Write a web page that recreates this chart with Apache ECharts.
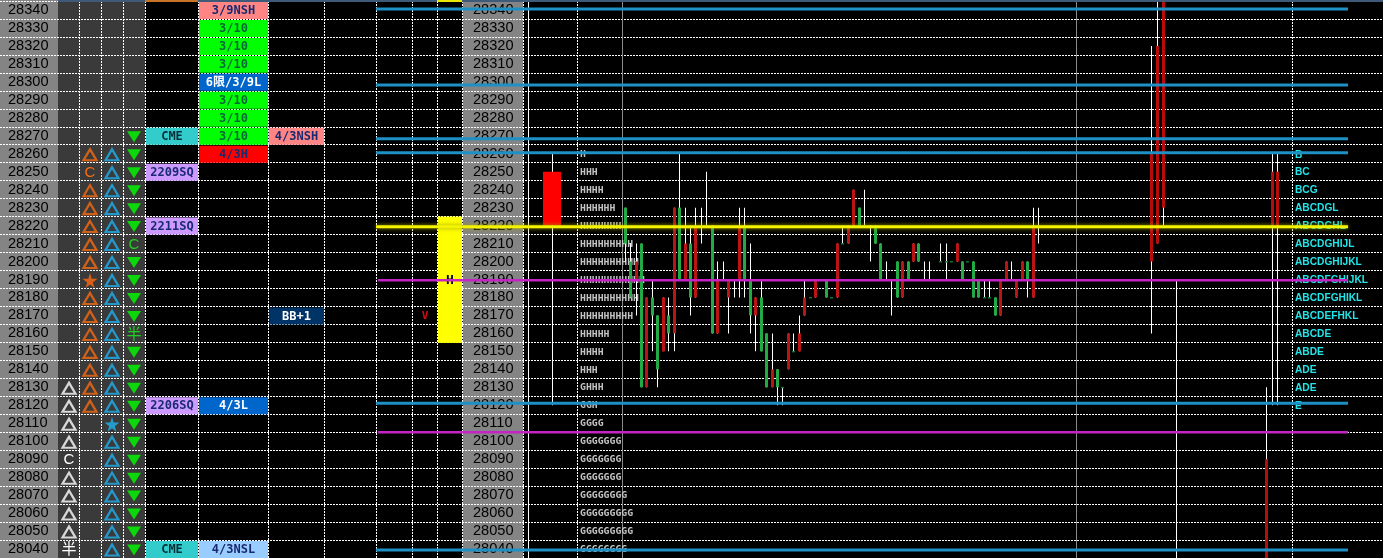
<!DOCTYPE html>
<html><head><meta charset="utf-8">
<style>html,body{margin:0;padding:0;background:#000;overflow:hidden}#c{width:1383px;height:558px}</style>
<script src="https://cdn.jsdelivr.net/npm/echarts@6/dist/echarts.min.js"></script>
</head><body><div id="c"></div>
<script>
const priceTicks=[28340,28330,28320,28310,28300,28290,28280,28270,28260,28250,28240,28230,28220,28210,28200,28190,28180,28170,28160,28150,28140,28130,28120,28110,28100,28090,28080,28070,28060,28050,28040];

const whiteTriangles=[28130,28120,28110,28100,28080,28070,28060,28050];
const orangeTriangles=[28260,28240,28230,28220,28210,28200,28180,28170,28160,28150,28140,28130,28120];
const blueTriangles=[28260,28250,28240,28230,28220,28210,28200,28190,28180,28170,28160,28150,28140,28130,28120,28100,28090,28080,28070,28060,28050,28040];
const greenTriangles=[28270,28260,28250,28240,28230,28220,28200,28190,28180,28170,28150,28140,28130,28120,28110,28100,28090,28080,28070,28060,28050,28040];
const orangeStars=[28190];
const blueStars=[28110];
const whiteMarks=[[28090,'C'],[28040,'半']];
const orangeMarks=[[28250,'C']];
const greenMarks=[[28210,'C'],[28160,'半']];

const sqPrices=[28270,28250,28220,28120,28040];
const sqLabels=['CME','2209SQ','2211SQ','2206SQ','CME'];
const datePrices=[28340,28330,28320,28310,28300,28290,28280,28270,28260,28120,28040];
const dateLabels=['3/9NSH','3/10','3/10','3/10','6限/3/9L','3/10','3/10','3/10','4/3H','4/3L','4/3NSL'];
const extraPrices=[28270,28170];
const extraLabels=['4/3NSH','BB+1'];
const valueAreaRows=[28220,28210,28200,28190,28180,28170,28160];

const profilePrices=[28260,28250,28240,28230,28220,28210,28200,28190,28180,28170,28160,28150,28140,28130,28120,28110,28100,28090,28080,28070,28060,28050,28040];
const profileText=['H','HHH','HHHH','HHHHHH','HHHHHHH','HHHHHHHHH','HHHHHHHHHH','HHHHHHHHHHH','HHHHHHHHHH','HHHHHHHHH','HHHHH','HHHH','HHH','GHHH','GGH','GGGG','GGGGGGG','GGGGGGG','GGGGGGG','GGGGGGGG','GGGGGGGGG','GGGGGGGGG','GGGGGGGG'];
const tpoPrices=[28260,28250,28240,28230,28220,28210,28200,28190,28180,28170,28160,28150,28140,28130,28120];
const tpoText=['B','BC','BCG','ABCDGL','ABCDGHL','ABCDGHIJL','ABCDGHIJKL','ABCDFGHIJKL','ABCDFGHIKL','ABCDEFHKL','ABCDE','ABDE','ADE','ADE','E'];

const blueLevels=[28340.6,28298.3,28268.3,28260.6,28121.1,28039.4];
const yellowLevels=[28219.4];
const magentaLevels=[28189.6,28105];

// intraday candles, one per slot from 0
const opens=[28230,28200,28190,28210,28130,28180,28170,28150,28170,28160,28230,28190,28210,28180,28220,28220,28220,28160,28190,28180,28190,28190,28220,28190,28170,28180,28160,28130,28140,28130,28140,28150,28150,28170,28180,28180,28190,28190,28180,28180,28210,28210,28220,28230,28220,28220,28220,28210,28190,28190,28200,28180,28200,28200,28210,28190,28190,28190,28200,28200,28200,28200,28200,28200,28200,28190,28180,28180,28180,28170,28190,28190,28180,28190,28200,28180,28220];
const closes=[28210,28180,28200,28130,28180,28170,28140,28180,28160,28230,28190,28210,28180,28220,28220,28220,28160,28190,28190,28190,28190,28220,28190,28170,28180,28150,28130,28140,28130,28130,28160,28150,28160,28180,28180,28190,28190,28180,28180,28210,28210,28220,28240,28220,28220,28220,28210,28190,28190,28190,28180,28200,28190,28210,28200,28190,28190,28190,28200,28200,28200,28210,28190,28200,28180,28180,28180,28180,28170,28190,28200,28190,28190,28200,28190,28220,28220];
const highs=[28230,28210,28210,28210,28180,28190,28170,28180,28180,28230,28260,28230,28220,28230,28230,28250,28220,28200,28200,28190,28190,28230,28230,28210,28180,28190,28160,28160,28140,28130,28160,28160,28170,28190,28180,28190,28190,28190,28180,28210,28220,28220,28240,28230,28240,28220,28220,28210,28200,28190,28200,28200,28200,28210,28210,28200,28200,28190,28210,28210,28200,28210,28200,28200,28200,28190,28190,28190,28180,28190,28200,28200,28190,28200,28200,28230,28230];
const lows=[28200,28180,28170,28130,28130,28150,28130,28150,28150,28150,28190,28190,28170,28180,28210,28220,28160,28160,28190,28160,28180,28180,28180,28160,28150,28150,28130,28130,28120,28120,28140,28150,28150,28170,28180,28180,28190,28180,28180,28180,28210,28210,28220,28220,28220,28200,28210,28190,28190,28170,28180,28180,28190,28200,28200,28190,28190,28190,28200,28190,28200,28200,28190,28200,28180,28180,28180,28180,28170,28170,28190,28190,28180,28190,28180,28180,28210];
// later candles, at the far right of the session
const lateSlots=[96.7,97.9,99,101.3,117.8,118.9,119.9];
const lateOpens=[28200,28210,28230,28190,28030,28220,28220];
const lateCloses=[28260,28320,28350,28190,28090,28250,28250];
const lateHighs=[28320,28350,28350,28190,28130,28260,28260];
const lateLows=[28160,28210,28220,28030,28030,28120,28120];
// previous-day candle
const dailySlots=[-13.4];
const dailyOpens=[28220];
const dailyCloses=[28250];
const dailyHighs=[28260];
const dailyLows=[28120];

/* ---- layout & style ---- */
const W=1383,SLOT0=624.7,PITCH=5.44;
const dividers=[79,101,123,145,198,268,324,376,412,437,462,523,577,1292];
const solidWhite=[528], solidGray=[622,1076];
const panels=[[0,58,'#848484'],[58,145,'#3a3a3a'],[463,523,'#848484']];
const topBars=[[58,W,'#3f5a78'],[145,198,'#c87428'],[437,462,'#e8e800']];
const cellFont='bold 12px "DejaVu Sans Mono","Noto Sans CJK JP"';
const NAVY='#1a2a70';
function cellStyle(t){
  if(t==='CME')return['#33cccc','#04303a'];
  if(/SQ$/.test(t))return['#cc99ff',NAVY];
  if(t==='3/10')return['#00ff00','#046a3a'];
  if(t==='4/3NSL')return['#99ccff',NAVY];
  if(/NSH$/.test(t))return['#ff8585',NAVY];
  if(t==='4/3H')return['#ff0000',NAVY];
  if(t==='BB+1')return['#003366','#ffffff'];
  return['#0066cc','#ffffff'];
}
const PX={xAxisIndex:0,yAxisIndex:1,silent:true,animation:false};
const series=[];

series.push({...PX,type:'custom',z:0,data:panels.map(p=>[p[0],p[1]]),
  renderItem(params,api){
    const a=api.coord([api.value(0),28345.5]),b=api.coord([api.value(1),28035]);
    return{type:'rect',shape:{x:a[0],y:0,width:b[0]-a[0],height:558},style:{fill:panels[params.dataIndex][2]}};
  }});
series.push({...PX,type:'custom',z:9,data:topBars.map(p=>[p[0],p[1]]),
  renderItem(params,api){
    const a=api.coord([api.value(0),28345]),b=api.coord([api.value(1),28345]);
    return{type:'rect',shape:{x:a[0],y:0,width:b[0]-a[0],height:2},style:{fill:topBars[params.dataIndex][2]}};
  }});

function vLine(x,color,dash){
  series.push({...PX,type:'line',z:1,symbol:'none',data:[[x+.5,28035],[x+.5,28345]],
    lineStyle:{color,width:1,type:dash?[2,1]:'solid'}});
}
dividers.forEach(x=>vLine(x,'#ffffff',true));
solidWhite.forEach(x=>vLine(x,'#ffffff',false));
solidGray.forEach(x=>vLine(x,'#8a8a8a',false));

function symbolSeries(x,prices,color,kind){
  const tri=kind!=='star';
  series.push({...PX,type:'scatter',z:3,data:prices.map(p=>[x,p]),
    symbol:tri?'triangle':'path://M50 0 L61 35 98 35 68 57 79 91 50 70 21 91 32 57 2 35 39 35Z',
    symbolRotate:kind==='down'?180:0,
    symbolSize:kind==='down'?[14,11]:kind==='up'?[13,11]:[15,15],
    symbolOffset:[0,1],
    itemStyle:kind==='up'?{color:'rgba(0,0,0,0)',borderColor:color,borderWidth:2.2}:{color}});
}
function textSeries(x,prices,texts,color,font,align,scaleY){
  series.push({...PX,type:'custom',z:4,data:prices.map(p=>[x,p]),encode:{x:0,y:1},
    renderItem(params,api){
      const c=api.coord([api.value(0),api.value(1)]);
      return{type:'text',x:c[0],y:c[1]+1,scaleY:scaleY||1,style:{text:texts[params.dataIndex],fill:color,font,align:align||'center',verticalAlign:'middle'}};
    }});
}
symbolSeries(69,whiteTriangles,'#ffffff','up');
symbolSeries(90,orangeTriangles,'#f86c10','up');
symbolSeries(112,blueTriangles,'#20b0f0','up');
symbolSeries(134,greenTriangles,'#00ff00','down');
symbolSeries(90,orangeStars,'#ff6a10','star');
symbolSeries(112,blueStars,'#20b4f0','star');
const markFont='15px "Liberation Sans","Noto Sans CJK JP"';
textSeries(69,whiteMarks.map(m=>m[0]),whiteMarks.map(m=>m[1]),'#ffffff',markFont);
textSeries(90,orangeMarks.map(m=>m[0]),orangeMarks.map(m=>m[1]),'#f86c10',markFont);
textSeries(134,greenMarks.map(m=>m[0]),greenMarks.map(m=>m[1]),'#20d020',markFont);

function cellSeries(x0,x1,prices,labels){
  series.push({...PX,type:'custom',z:3,data:prices.map(p=>[x0,p]),encode:{x:0,y:1},
    renderItem(params,api){
      const p=api.value(1),lab=labels[params.dataIndex],st=cellStyle(lab);
      const a=api.coord([x0,p+5]),b=api.coord([x1,p-5]);
      return{type:'group',children:[
        {type:'rect',shape:{x:a[0]+1,y:a[1]+1,width:b[0]-a[0]-1,height:b[1]-a[1]-1},style:{fill:st[0]}},
        {type:'text',x:(a[0]+b[0])/2+.5,y:(a[1]+b[1])/2+1,style:{text:lab,fill:st[1],font:cellFont,align:'center',verticalAlign:'middle'}}
      ]};
    }});
}
cellSeries(145,198,sqPrices,sqLabels);
cellSeries(198,268,datePrices,dateLabels);
cellSeries(268,324,extraPrices,extraLabels);
series.push({...PX,type:'custom',z:3,data:valueAreaRows.map(p=>[437,p]),encode:{x:0,y:1},
  renderItem(params,api){
    const p=api.value(1),a=api.coord([437,p+5]),b=api.coord([462,p-5]);
    return{type:'rect',shape:{x:a[0]+1,y:a[1],width:b[0]-a[0]-1,height:b[1]-a[1]+.5},style:{fill:'#ffff00'}};
  }});
textSeries(450,[28190],['H'],'#000018','bold 13px "DejaVu Sans Mono"');
textSeries(425,[28170],['V'],'#d01010','bold 11px "DejaVu Sans Mono"');
textSeries(580,profilePrices,profileText,'#c4c4c4','bold 9.8px "DejaVu Sans Mono"','left',0.85);
textSeries(1295,tpoPrices,tpoText,'#22e6ea','bold 10.2px "Liberation Sans"','left');

function candleSeries(slots,o,c,h,l,bodyW,up,down){
  series.push({type:'custom',xAxisIndex:1,yAxisIndex:1,silent:true,animation:false,z:5,
    data:slots.map((s,i)=>[s,o[i],c[i],l[i],h[i]]),encode:{x:0,y:[1,2,3,4]},
    renderItem(params,api){
      const s=api.value(0),op=api.value(1),cl=api.value(2),lo=api.value(3),hi=api.value(4);
      const x=Math.round(api.coord([s,op])[0]);
      const yo=api.coord([s,op])[1],yc=api.coord([s,cl])[1],yl=api.coord([s,lo])[1],yh=api.coord([s,hi])[1];
      const kids=[{type:'rect',shape:{x,y:yh,width:1,height:yl-yh},style:{fill:'#ffffff'}}];
      const left=x-Math.floor(bodyW/2);
      if(op===cl) kids.push({type:'rect',shape:{x:x-1,y:yo-.5,width:3,height:1.5},style:{fill:'#0c7a30'}});
      else kids.push({type:'rect',shape:{x:left,y:Math.min(yo,yc),width:bodyW,height:Math.abs(yo-yc)},style:{fill:cl>op?up:down}});
      return{type:'group',children:kids};
    }});
}
candleSeries(dailySlots,dailyOpens,dailyCloses,dailyHighs,dailyLows,18,'#ff0000','#22aa44');
candleSeries(opens.map((_,i)=>i),opens,closes,highs,lows,3,'#bb1414','#22aa44');
candleSeries(lateSlots,lateOpens,lateCloses,lateHighs,lateLows,3,'#b80c0c','#22aa44');

function levels(list,x0,color,width,glow){
  list.forEach(p=>series.push({...PX,type:'line',z:8,symbol:'none',data:[[x0,p],[1348,p]],
    lineStyle:{color,width,shadowColor:glow,shadowBlur:glow?4:0}}));
}
levels(blueLevels,376,'#1e90c4',3);
levels(yellowLevels,376,'#f4f400',3,'#a0a000');
levels(magentaLevels,378,'#c424c4',2.6);

const catAxis=(offset)=>({type:'category',data:priceTicks,inverse:true,position:'left',offset,z:1,
  axisLine:{show:false},axisTick:{show:false},
  axisLabel:{inside:true,margin:8,interval:0,color:'#000000',fontFamily:'Liberation Sans',fontSize:14.6,padding:[7,0,0,0]}});
const option={
  backgroundColor:'#000000',animation:false,
  grid:{left:0,width:W,top:1,height:558,containLabel:false},
  xAxis:[
    {type:'value',min:0,max:W,show:false},
    {type:'value',min:-SLOT0/PITCH,max:(W-SLOT0)/PITCH,show:false}
  ],
  yAxis:[
    Object.assign(catAxis(0),{splitLine:{show:true,interval:0,lineStyle:{color:'#ffffff',width:1,type:[2,1]}}}),
    {type:'value',min:28035,max:28345,show:false},
    catAxis(-465)
  ],
  series
};
echarts.init(document.getElementById('c'),null,{renderer:'canvas'}).setOption(option);
</script></body></html>
